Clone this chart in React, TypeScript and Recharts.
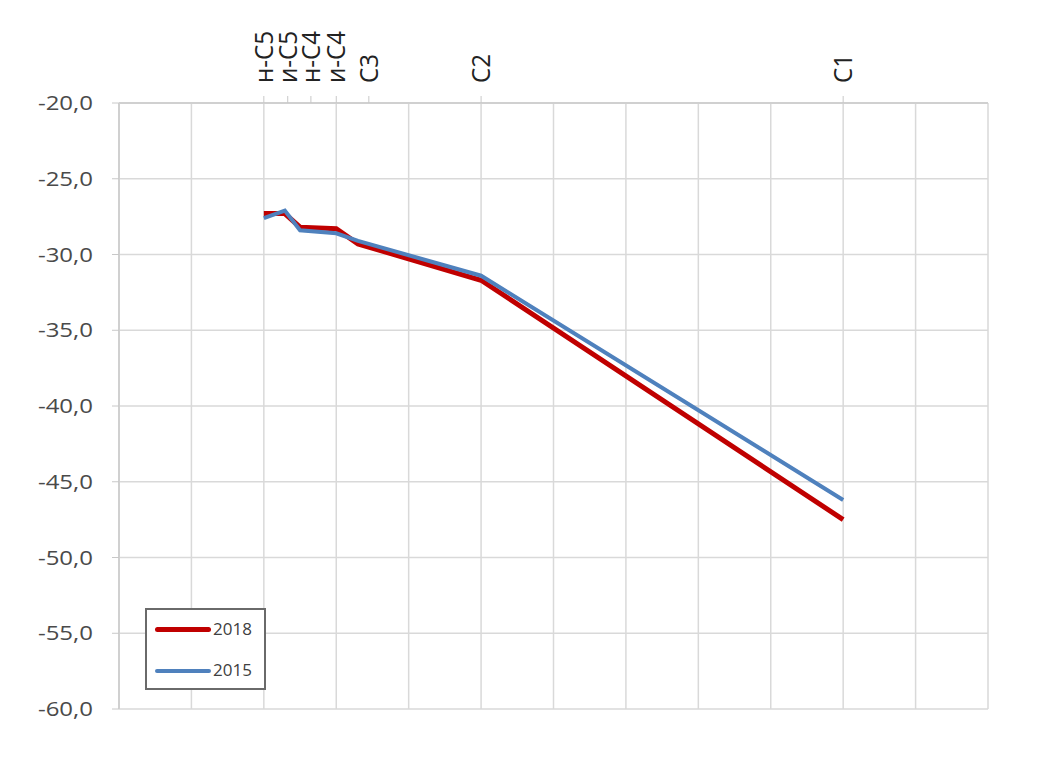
import { LineChart, Line, XAxis, YAxis, ReferenceLine } from 'recharts';

const pointX = [2.0, 2.29, 2.5, 3.0, 3.3, 5.0, 10.0];
const values2018 = [-27.3, -27.3, -28.2, -28.3, -29.3, -31.7, -47.5];
const values2015 = [-27.6, -27.1, -28.4, -28.6, -29.1, -31.4, -46.2];

const tickLabels = ['н-С5', 'и-С5', 'н-С4', 'и-С4', 'С3', 'С2', 'С1'];
const tickPositions = [2.0, 2.33, 2.65, 3.0, 3.45, 5.0, 10.0];
const gridX = [1, 2, 3, 4, 5, 6, 7, 8, 9, 10, 11, 12];
const yTicks = [-20, -25, -30, -35, -40, -45, -50, -55, -60];

const data = pointX.map((x, i) => ({ x, y2018: values2018[i], y2015: values2015[i] }));

const font = '"Open Sans", "Liberation Sans", sans-serif';

function TopTick(props: any) {
  const { x, y, payload } = props;
  const idx = tickPositions.indexOf(payload.value);
  return (
    <g transform={`translate(${x},${y - 11})`}>
      <text transform="rotate(-90) scale(1.05,1.12)" x={0} y={0} dy="0.35em" textAnchor="start" fontSize={23} fill="#222" fontFamily={font}>
        {tickLabels[idx]}
      </text>
    </g>
  );
}

function LeftTick(props: any) {
  const { x, y, payload } = props;
  return (
    <g transform={`translate(${x - 17},${y}) scale(1.2,1)`}>
      <text x={0} y={0} dy="0.35em" textAnchor="end" fontSize={20} fill="#4a4a4a" fontFamily={font}>
        {payload.value.toFixed(1).replace('.', ',')}
      </text>
    </g>
  );
}

export default function App() {
  return (
    <div
      style={{
        position: 'relative',
        width: 1063,
        height: 774,
        margin: -8,
        background: '#fff',
        boxShadow: 'inset 5px 0 0 #fff, inset 8px 0 0 #1a1a1a, inset 0 4px 0 #fff, inset 0 6px 0 #1a1a1a',
      }}
    >
      <LineChart width={1063} height={774} data={data} margin={{ top: 8, right: 75, bottom: 65, left: 0 }} accessibilityLayer={false}>
        <rect x={6} y={5} width={1052} height={766} fill="none" stroke="#1a1a1a" strokeWidth={2.5} />
        <XAxis
          dataKey="x"
          type="number"
          orientation="top"
          domain={[0, 12]}
          ticks={tickPositions}
          tick={<TopTick />}
          height={95}
          axisLine={{ stroke: '#d0d0d0', strokeWidth: 2 }}
          tickLine={{ stroke: '#c8c8c8' }}
          tickSize={7}
          interval={0}
          allowDataOverflow
        />
        <YAxis
          type="number"
          domain={[-60, -20]}
          ticks={yTicks}
          width={119}
          axisLine={{ stroke: '#d0d0d0', strokeWidth: 2 }}
          tickLine={{ stroke: '#c8c8c8' }}
          tickSize={7}
          tick={<LeftTick />}
          interval={0}
        />
        {yTicks.slice(1).map((v) => (
          <ReferenceLine key={'h' + v} y={v} stroke="#d9d9d9" strokeWidth={1.5} />
        ))}
        {gridX.map((v) => (
          <ReferenceLine key={'v' + v} x={v} stroke="#d9d9d9" strokeWidth={1.5} />
        ))}
        <Line dataKey="y2018" stroke="#c00000" strokeWidth={5} dot={false} isAnimationActive={false} />
        <Line dataKey="y2015" stroke="#4f81bd" strokeWidth={4} dot={false} isAnimationActive={false} />
      </LineChart>
      <div style={{ position: 'absolute', left: 145, top: 608, width: 117, height: 78, border: '2px solid #6a6a6a', background: '#fff', fontFamily: font, fontSize: 17, color: '#404040' }}>
        <div style={{ position: 'absolute', left: 8, top: 17, width: 56, height: 5, background: '#c00000', borderRadius: 3 }} />
        <div style={{ position: 'absolute', left: 66, top: 7 }}>2018</div>
        <div style={{ position: 'absolute', left: 8, top: 59, width: 56, height: 4, background: '#4f81bd', borderRadius: 2 }} />
        <div style={{ position: 'absolute', left: 66, top: 48 }}>2015</div>
      </div>
    </div>
  );
}
